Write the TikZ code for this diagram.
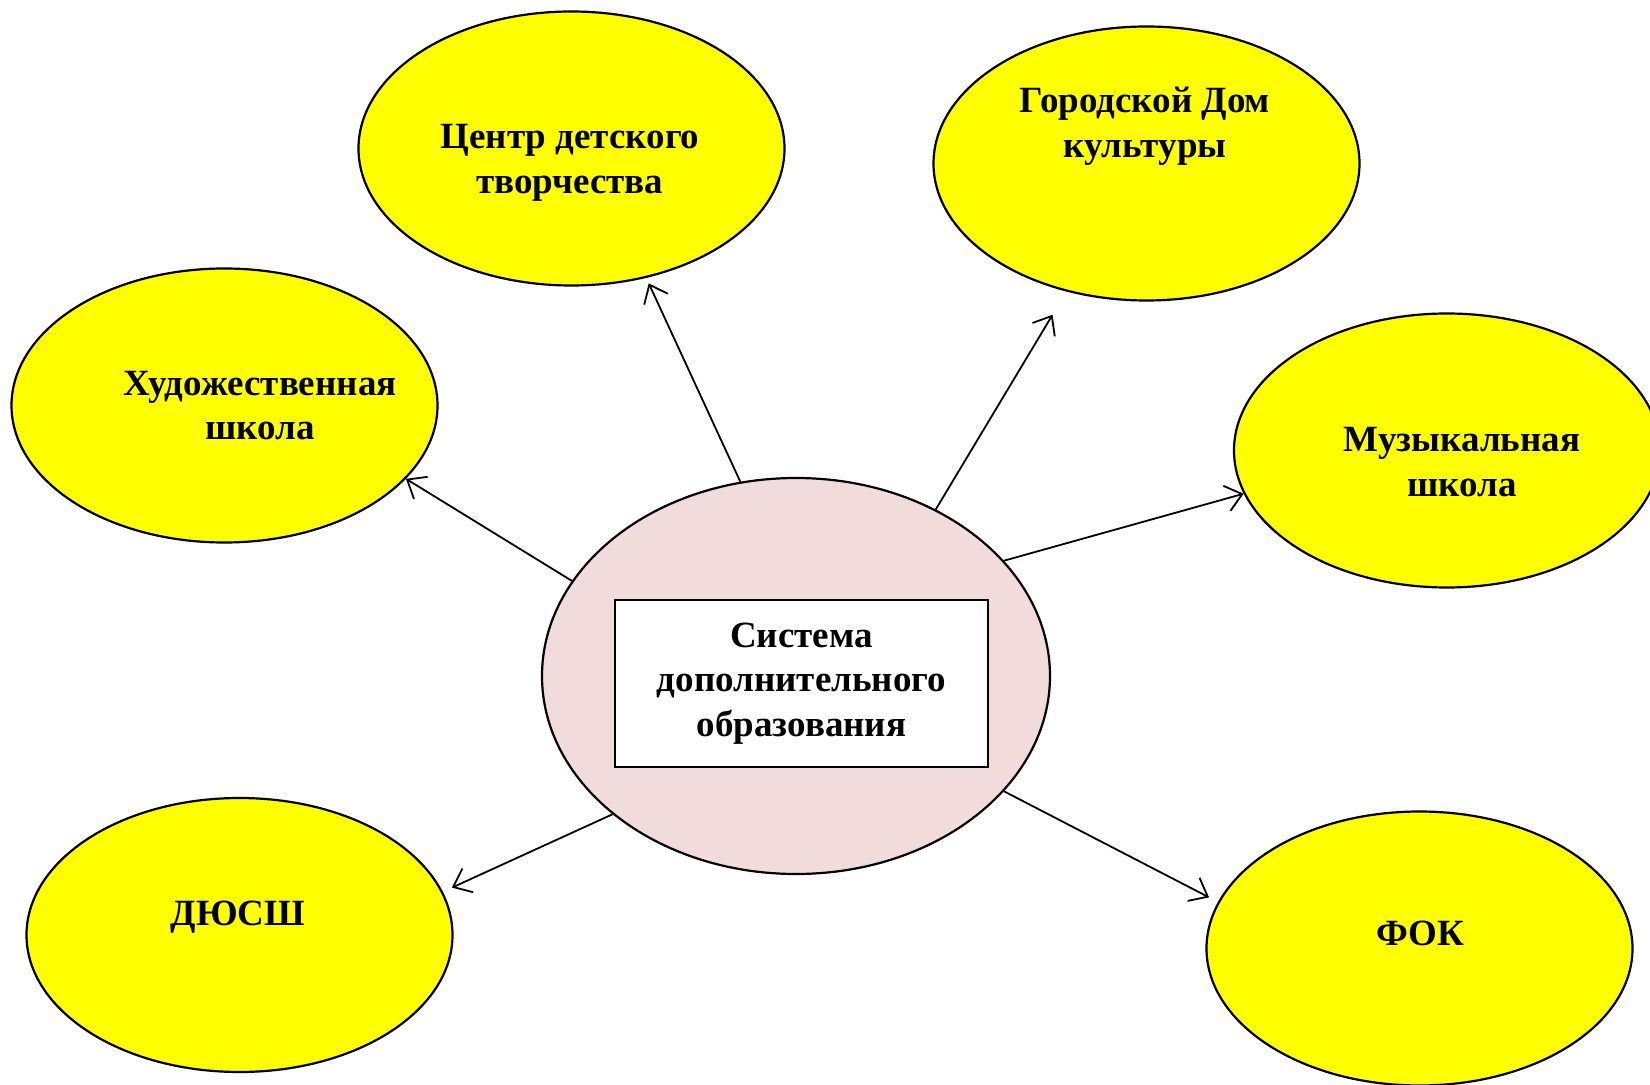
\documentclass[tikz,border=0pt]{standalone}
\usepackage{fontspec}
\setmainfont{Liberation Serif}
\usetikzlibrary{shapes.geometric}
\usetikzlibrary{arrows.meta}
\definecolor{bubbleyellow}{RGB}{255,255,0}
\definecolor{centerpink}{RGB}{242,220,219}

\tikzset{
  bubble/.style={ellipse, draw, line width=1.1pt, fill=bubbleyellow, inner sep=0pt,
    minimum width=213pt, minimum height=137pt},
  hub/.style={ellipse, draw, line width=1.1pt, fill=centerpink, inner sep=0pt,
    minimum width=254pt, minimum height=198pt},
  hubbox/.style={draw, line width=1.2pt, fill=white, inner sep=0pt,
    minimum width=186.5pt, minimum height=83.5pt},
  caption/.style={font=\fontsize{18.5}{22.3}\selectfont\bfseries, align=center},
  link/.style={line width=0.9pt, -{Straight Barb[length=8pt,width=13pt]}}
}

\begin{document}
\begin{tikzpicture}[x=0.5pt,y=-0.5pt]
		\useasboundingbox (0,0) rectangle (1650,1085);
		% hub in the middle
		\node[hub] (sys) at (796,676) {};
		\node[hubbox, caption] (sysbox) at (801.5,683.5) {Система\\дополнительного\\образования};
		
		% the six bubbles
		\node[bubble] (ctr) at (571.5,148.5) {};
		\node[caption] (ctrtext) at (570,163) {Центр детского\\творчества};
		\node[bubble] (gdk) at (1146.5,163.5) {};
		\node[caption] (gdktext) at (1145,126.5) {Городской Дом\\культуры};
		\node[bubble] (hud) at (224.5,405.5) {};
		\node[caption] (hudtext) at (260,405.5) {Художественная\\школа};
		\node[bubble] (muz) at (1447,450.5) {};
		\node[caption] (muztext) at (1462,462) {Музыкальная\\школа};
		\node[bubble] (dyu) at (239.5,935) {};
		\node[caption] (dyutext) at (238,917) {ДЮСШ};
		\node[bubble] (fok) at (1419.5,948.5) {};
		\node[caption] (foktext) at (1420,933) {ФОК};
		
		\draw[link, shorten >=3pt] (sys.106.7) -- (ctr.-60.2);
		\draw[link, shorten >=13.5pt] (sys.50.5) -- (gdk.238.8);
		\draw[link] (sys.29.5) -- (muz.192.8);
		\draw[link] (sys.157.6) -- (hud.-22);
		\draw[link, shorten >=5pt] (sys.217.9) -- (dyu.12.8);
		\draw[link, shorten >=5pt] (sys.-29.6) -- (fok.167.6);
\end{tikzpicture}
\end{document}
